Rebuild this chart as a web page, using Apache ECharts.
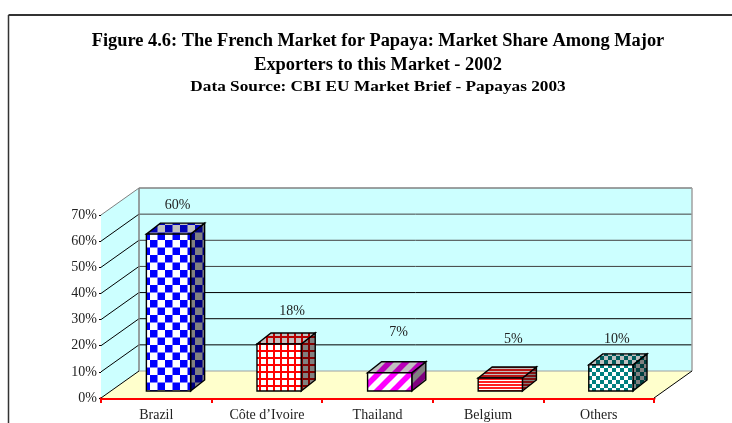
<!DOCTYPE html>
<html><head><meta charset="utf-8">
<style>html,body{margin:0;padding:0;background:#fff}#c{width:732px;height:423px}</style>
<script src="https://cdn.jsdelivr.net/npm/echarts@6/dist/echarts.min.js"></script>
</head><body><div id="c"></div>
<script>
const categories = ['Brazil', 'Côte d’Ivoire', 'Thailand', 'Belgium', 'Others'];
const shares = [60, 18, 7, 5, 10];
const yTicks = [0, 10, 20, 30, 40, 50, 60, 70];
const titleLines = 'Figure 4.6: The French Market for Papaya: Market Share Among Major\nExporters to this Market - 2002';
const subtitle = 'Data Source: CBI EU Market Brief - Papayas 2003';

const labelNudge = [[2,2],[6,-2],[2,-9],[6,-8],[-1,5]];
const serif = '"Liberation Serif","Times New Roman",serif';
const wall = {dx:38, dy:-27}, bar = {dx:14, dy:-11, lift:7, shift:12.2, w:0.4};

function shade(c, k){
  const n = parseInt(c.slice(1),16);
  const f = v => Math.round(v*k);
  return `rgb(${f(n>>16&255)},${f(n>>8&255)},${f(n&255)})`;
}
function pat(kind, fg, bg){
  const s = {check:15, grid:7, diag:16, hstripe:3, dots:8}[kind];
  const cv = document.createElement('canvas'); cv.width = cv.height = s;
  const g = cv.getContext('2d');
  g.fillStyle = bg; g.fillRect(0,0,s,s); g.fillStyle = fg; g.strokeStyle = fg;
  if(kind==='check'){ const h=s/2; g.fillRect(0,0,h,h); g.fillRect(h,h,h,h); }
  if(kind==='dots'){ g.fillRect(0,0,s,s); g.fillStyle=bg; g.fillRect(0,0,4,4); g.fillRect(4,4,4,4); }
  if(kind==='grid'){ g.fillRect(0,0,s,2); g.fillRect(0,0,2,s); }
  if(kind==='hstripe'){ g.fillRect(0,0,s,2); }
  if(kind==='diag'){ g.lineWidth=5.6; for(let i=-2*s;i<=2*s;i+=s){ g.beginPath(); g.moveTo(i-s,2*s); g.lineTo(i+2*s,-s); g.stroke(); } }
  return {image:cv, repeat:'repeat'};
}
const styles = [['check','#0000ff'],['grid','#ff0000'],['diag','#ff00ff'],['hstripe','#ff2020'],['dots','#008080']].map(([k,c])=>({
  front: pat(k,c,'#ffffff'),
  top: pat(k,shade(c,0.72),'#c0c0c0'),
  side: pat(k,shade(c,0.5),'#808080')
}));

const poly = (pts, fill, stroke, lw) => ({type:'polygon', shape:{points:pts}, silent:true,
  style:{fill:fill||'none', stroke:stroke||'none', lineWidth:lw||0}});
const line = (a,b,stroke,lw) => ({type:'line', silent:true, shape:{x1:a[0],y1:a[1],x2:b[0],y2:b[1]}, style:{stroke, lineWidth:lw||1}});

function renderWalls(p, api){
  const o = api.coord([0,0]);
  const band = api.size([1,0])[0];
  const x0 = o[0]-band/2, x1 = x0+band*categories.length;
  const y0 = o[1], top = api.coord([0,yTicks[yTicks.length-1]])[1];
  const d = wall, ch = [];
  ch.push(poly([[x0,y0],[x0+d.dx,y0+d.dy],[x1+d.dx,y0+d.dy],[x1,y0]],'#ffffcc'));
  ch.push(poly([[x0+d.dx,y0+d.dy],[x1+d.dx,y0+d.dy],[x1+d.dx,top+d.dy],[x0+d.dx,top+d.dy]],'#ccffff'));
  ch.push(poly([[x0,y0],[x0+d.dx,y0+d.dy],[x0+d.dx,top+d.dy],[x0,top]],'#ccffff'));
  yTicks.forEach(t=>{
    if(t===0) return;
    const y = api.coord([0,t])[1];
    const c = t===70 ? '#808080' : (t>=40 ? '#404040' : '#000000');
    if(t<70) ch.push(line([x0+d.dx,y+d.dy],[x1+d.dx,y+d.dy],c,1));
    ch.push(line([x0,y],[x0+d.dx,y+d.dy],t===70?'#808080':'#000000',1));
  });
  ch.push(line([x0+d.dx,top+d.dy],[x1+d.dx,top+d.dy],'#808080',1.5));
  ch.push(line([x0+d.dx,top+d.dy],[x0+d.dx,y0+d.dy],'#808080',1.5));
  ch.push(line([x1+d.dx,top+d.dy],[x1+d.dx,y0+d.dy],'#a0a0a0',1.5));
  ch.push(line([x0+d.dx,y0+d.dy],[x1+d.dx,y0+d.dy],'#a0a0a0',1));
  ch.push(line([x0,y0],[x0+d.dx,y0+d.dy],'#000000',1));
  ch.push(line([x1,y0],[x1+d.dx,y0+d.dy],'#000000',1));
  return {type:'group', children:ch};
}
function renderBar(p, api){
  const i = api.value(0), v = api.value(1);
  const c = api.coord([i,v]), band = api.size([1,0])[0];
  const w = band*bar.w, cx = c[0]+bar.shift;
  const l = cx-w/2, r = cx+w/2;
  const b = api.coord([i,0])[1]-bar.lift, t = c[1]-bar.lift;
  const dx = bar.dx, dy = bar.dy, s = styles[i], k='#000000';
  const n = labelNudge[i];
  return {type:'group', children:[
    poly([[r,b],[r+dx,b+dy],[r+dx,t+dy],[r,t]], s.side, k, 1.4),
    poly([[l,t],[r,t],[r+dx,t+dy],[l+dx,t+dy]], s.top, k, 1.4),
    poly([[l,t],[r,t],[r,b],[l,b]], s.front, k, 1.4),
    {type:'text', silent:true, x:cx+dx/2+n[0], y:t+dy-20+n[1],
      style:{text:v+'%', font:'14px '+serif, fill:'#222', align:'center', verticalAlign:'middle'}}
  ]};
}

const chart = echarts.init(document.getElementById('c'), null, {renderer:'canvas'});
chart.setOption({
  animation:false,
  backgroundColor:'#ffffff',
  graphic:[
    {type:'line', silent:true, shape:{x1:8.5,y1:15,x2:732,y2:15}, style:{stroke:'#333',lineWidth:2}},
    {type:'line', silent:true, shape:{x1:8.5,y1:15,x2:8.5,y2:423}, style:{stroke:'#333',lineWidth:1.5}},
    {type:'text', silent:true, x:378, y:53, style:{text:titleLines, font:'bold 18.4px '+serif, lineHeight:24, fill:'#000', align:'center', verticalAlign:'middle'}},
    {type:'text', silent:true, x:378, y:87, scaleX:1.19, originX:0, originY:0, style:{text:subtitle, font:'bold 14.5px '+serif, fill:'#000', align:'center', verticalAlign:'middle'}}
  ],
  grid:{left:101, right:78, top:215, bottom:25, containLabel:false},
  xAxis:{type:'category', data:categories,
    axisLine:{lineStyle:{color:'#ff0000',width:3}},
    axisTick:{show:true,alignWithLabel:false,length:5,lineStyle:{color:'#ff0000',width:2}},
    axisLabel:{fontFamily:serif,fontSize:14,color:'#222',margin:10,interval:0},
    splitLine:{show:false}},
  yAxis:{type:'value', min:0, max:70, interval:10,
    axisLine:{show:true,lineStyle:{color:'#000',width:1}},
    axisTick:{show:true,length:2,lineStyle:{color:'#000'}},
    axisLabel:{formatter:'{value}%',fontFamily:serif,fontSize:14,color:'#222',margin:4,padding:[5,0,0,0]},
    splitLine:{show:false}},
  series:[
    {type:'custom', z:1, clip:false, silent:true, renderItem:renderWalls, data:[[0,0]], encode:{x:0,y:1}},
    {type:'custom', z:3, clip:false, silent:true, renderItem:renderBar, data:shares.map((v,i)=>[i,v]), encode:{x:0,y:1}}
  ]
});
</script></body></html>
